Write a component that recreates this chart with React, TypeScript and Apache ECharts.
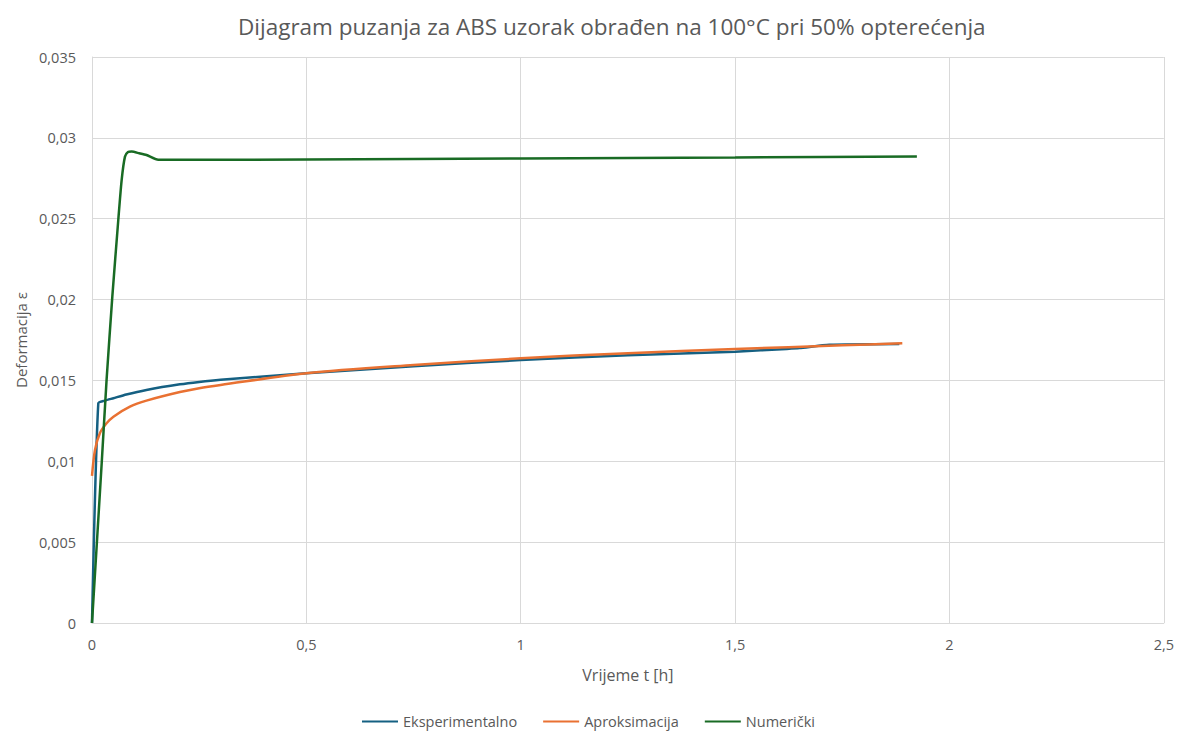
import React, { useEffect, useRef } from "react";
import * as echarts from "echarts";

const titleText = "Dijagram puzanja za ABS uzorak obrađen na 100°C pri 50% opterećenja";
const xName = "Vrijeme t [h]";
const yName = "Deformacija ε";
const seriesNames = ["Eksperimentalno", "Aproksimacija", "Numerički"];

const expT = [0, 0.0147, 0.03, 0.05, 0.08, 0.127, 0.205, 0.25, 0.3, 0.5, 0.75, 1.0, 1.25, 1.5, 1.62, 1.65, 1.72, 1.883];
const expE = [0, 0.01359, 0.01375, 0.0139, 0.01413, 0.01441, 0.01476, 0.01491, 0.01504, 0.01544, 0.01588, 0.01626, 0.01655, 0.01678, 0.01695, 0.017, 0.0172, 0.01725];

const aproT = [0, 0.007, 0.0186, 0.034, 0.05, 0.0885, 0.127, 0.205, 0.25, 0.3, 0.5, 0.75, 1.0, 1.25, 1.5, 1.75, 1.89];
const aproE = [0.0091, 0.0107, 0.01175, 0.01235, 0.01276, 0.01338, 0.01375, 0.01428, 0.01452, 0.01472, 0.01544, 0.01595, 0.01637, 0.01668, 0.01694, 0.01717, 0.0173];

const numT = [0, 0.0226, 0.034, 0.0474, 0.0613, 0.0692, 0.0769, 0.084, 0.0925, 0.11, 0.127, 0.1545, 0.5, 1.0, 1.5, 1.924];
const numE = [0, 0.00988, 0.01503, 0.02018, 0.02492, 0.0274, 0.02884, 0.02912, 0.02915, 0.02905, 0.02894, 0.02864, 0.02866, 0.02873, 0.02879, 0.02885];

const colors = ["#156082", "#E97132", "#196B24"];

const xTicks = { min: 0, max: 2.5, interval: 0.5 };
const yTicks = { min: 0, max: 0.035, interval: 0.005 };

const zip = (a: number[], b: number[]) => a.map((v, i) => [v, b[i]]);
const fmt = (v: number) => String(parseFloat(v.toFixed(4))).replace(".", ",");

export default function App() {
  const ref = useRef<HTMLDivElement>(null);
  useEffect(() => {
    document.body.style.margin = "0";
    const chart = echarts.init(ref.current!, null, { renderer: "svg" });
    const font = "Open Sans, Liberation Sans, sans-serif";
    const mk = (i: number, t: number[], e: number[], smooth: number) => ({
      name: seriesNames[i],
      type: "line",
      data: zip(t, e),
      showSymbol: false,
      smooth,
      lineStyle: { width: 2.5, color: colors[i] },
      itemStyle: { color: colors[i] },
    });
    chart.setOption({
      animation: false,
      textStyle: { fontFamily: font },
      title: {
        text: titleText,
        left: 233,
        top: 10,
        textStyle: { fontSize: 22.5, fontWeight: "normal", color: "#595959", fontFamily: font },
      },
      grid: { left: 92, right: 12, top: 57, bottom: 108, containLabel: false },
      legend: {
        top: 709,
        left: "center",
        icon: "rect",
        itemWidth: 36,
        itemHeight: 2,
        itemGap: 26,
        textStyle: { fontSize: 14.5, color: "#595959", fontFamily: font },
        data: seriesNames,
      },
      xAxis: {
        type: "value",
        ...xTicks,
        name: xName,
        nameLocation: "middle",
        nameGap: 44,
        nameTextStyle: { fontSize: 16, color: "#595959" },
        axisLine: { show: true, lineStyle: { color: "#d9d9d9" } },
        axisTick: { show: false },
        axisLabel: { fontSize: 14.5, color: "#595959", margin: 14, formatter: fmt },
        splitLine: { show: true, lineStyle: { color: "#d9d9d9" } },
      },
      yAxis: {
        type: "value",
        ...yTicks,
        name: yName,
        nameLocation: "middle",
        nameGap: 64,
        nameTextStyle: { fontSize: 15, color: "#595959" },
        axisLine: { show: true, lineStyle: { color: "#d9d9d9" } },
        axisTick: { show: false },
        axisLabel: { fontSize: 14.5, color: "#595959", margin: 16, formatter: fmt },
        splitLine: { show: true, lineStyle: { color: "#d9d9d9" } },
      },
      series: [mk(0, expT, expE, 0.2), mk(1, aproT, aproE, 0.3), mk(2, numT, numE, 0.2)],
    });
    return () => chart.dispose();
  }, []);
  return <div ref={ref} style={{ width: 1177, height: 731 }} />;
}
